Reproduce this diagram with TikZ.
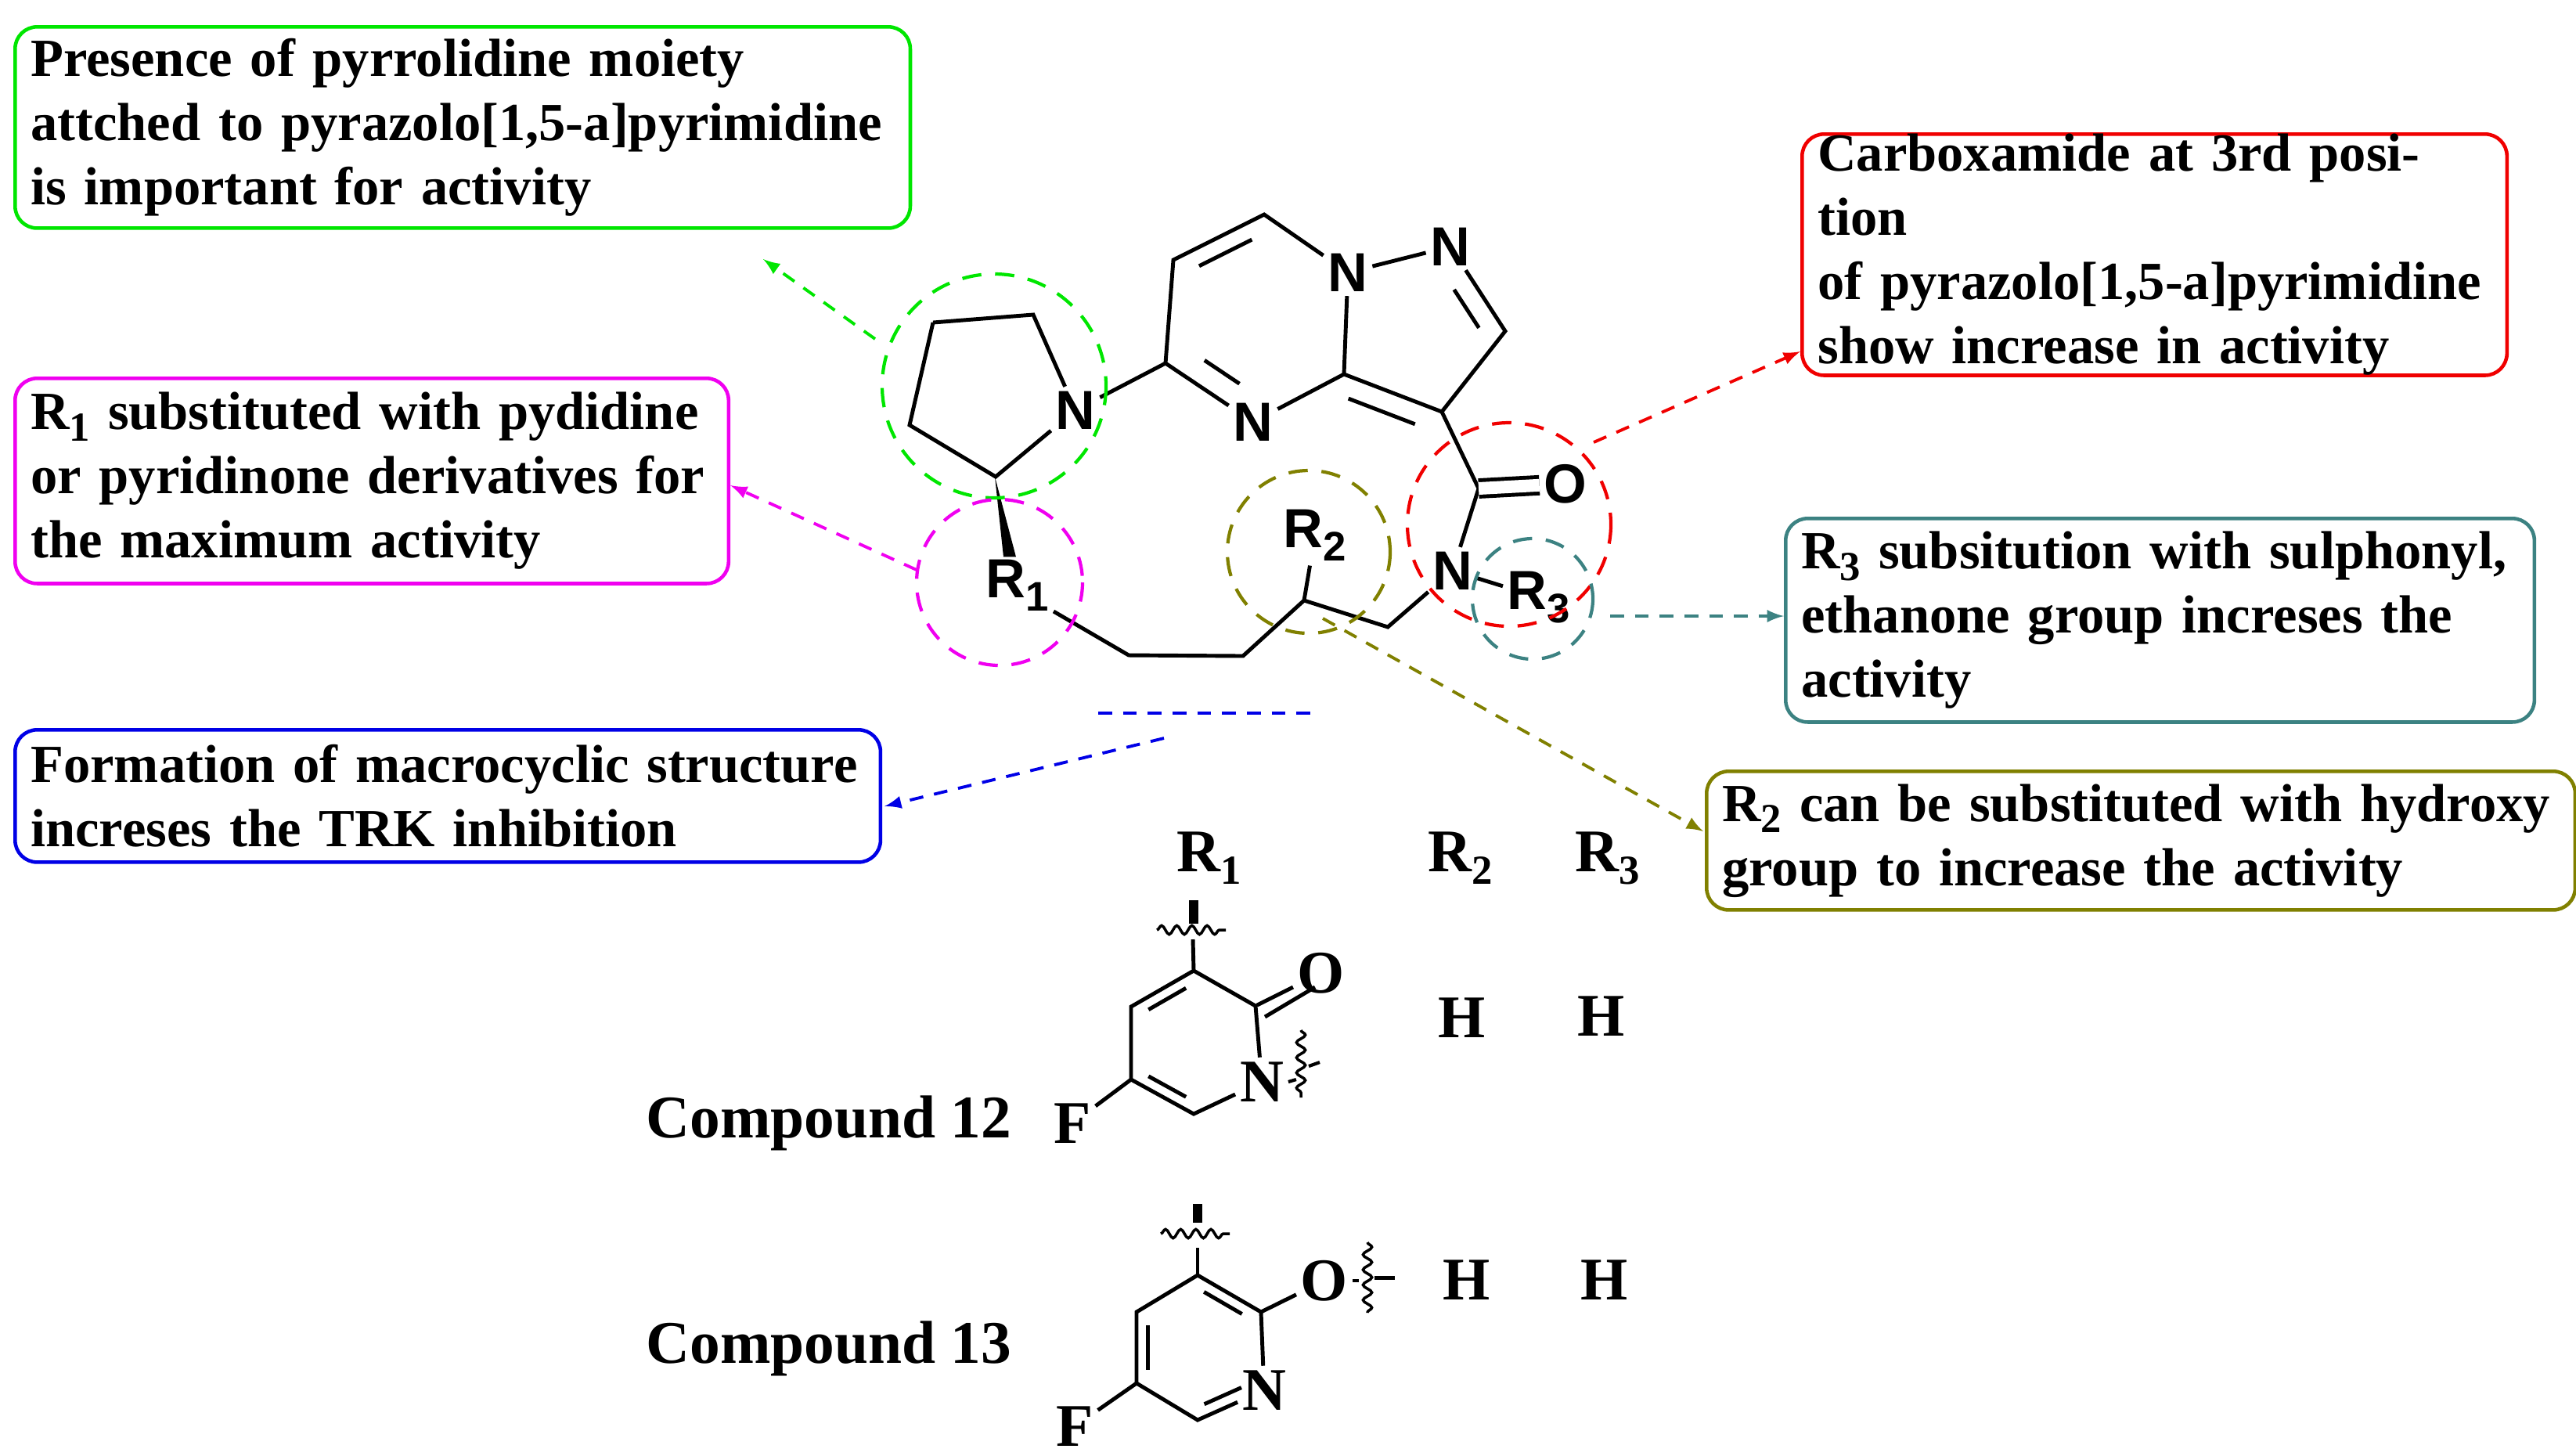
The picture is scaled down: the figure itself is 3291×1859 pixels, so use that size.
\documentclass[tikz,border=0pt]{standalone}
\usepackage{fontspec}
\setmainfont{Liberation Serif}
\newfontfamily\chem{Liberation Sans}
\usetikzlibrary{calc,decorations.pathmorphing}
\newcommand{\jl}[1]{\makebox[\linewidth][s]{#1}}
\newcommand{\lsub}[1]{\raisebox{-0.45ex}{\fontsize{15}{15}\selectfont #1}}
\definecolor{mygreen}{RGB}{0,230,0}
\definecolor{myred}{RGB}{240,0,0}
\definecolor{mymag}{RGB}{240,0,240}
\definecolor{myteal}{RGB}{60,130,130}
\definecolor{myblue}{RGB}{0,0,230}
\definecolor{myolive}{RGB}{128,128,0}
\begin{document}
\begin{tikzpicture}[x=0.01cm,y=-0.01cm,
  box/.style={draw,rounded corners=8pt,line width=1.3pt,anchor=north west,inner sep=0pt,align=left,
    font=\bfseries\fontsize{19.5}{23.3}\selectfont},
  bd/.style={line width=1.4pt},
  atm/.style={font=\chem\bfseries\fontsize{20}{20}\selectfont,inner sep=1.5pt},
  ct/.style={font=\bfseries\fontsize{22}{22}\selectfont,inner sep=1.5pt},
  circ/.style={dashed,line width=1.2pt,dash pattern=on 7pt off 5pt},
  arr/.style={dashed,line width=1.1pt,-latex,dash pattern=on 5pt off 4pt},
  wv/.style={line width=1pt,decorate,decoration={snake,amplitude=1.6pt,segment length=5.5pt}}]
\useasboundingbox (0,0) rectangle (3291,1859);
% ---- boxes
\node[box,draw=mygreen,text width=11.03cm,minimum width=11.43cm,minimum height=2.57cm,inner xsep=0.2cm] (bg) at (17,32)
 {\jl{Presence of pyrrolidine moiety}\\\jl{attched to pyrazolo[1,5-a]pyrimidine}\\is important for activity};
\node[box,draw=myred,text width=8.6cm,minimum width=9.0cm,minimum height=2.57cm,inner xsep=0.2cm] (br) at (2300,169)
 {Carboxamide at 3rd position\\of pyrazolo[1,5-a]pyrimidine\\show increase in activity};
\node[box,draw=mymag,text width=8.71cm,minimum width=9.11cm,minimum height=2.62cm,inner xsep=0.2cm] (bm) at (17,481)
 {\jl{R\lsub{1} substituted with pydidine}\\\jl{or pyridinone derivatives for}\\the maximum activity};
\node[box,draw=myteal,text width=9.16cm,minimum width=9.56cm,minimum height=2.6cm,inner xsep=0.2cm] (bt) at (2279,660)
 {\jl{R\lsub{3} subsitution with sulphonyl,}\\\jl{ethanone group increses the}\\activity};
\node[box,draw=myblue,text width=10.65cm,minimum width=11.05cm,minimum height=1.69cm,inner xsep=0.2cm] (bb) at (17,930)
 {\jl{Formation of macrocyclic structure}\\increses the TRK inhibition};
\node[box,draw=myolive,text width=10.69cm,minimum width=11.09cm,minimum height=1.77cm,inner xsep=0.2cm] (bo) at (2178,983)
 {\jl{R\lsub{2} can be substituted with hydroxy}\\group to increase the activity};
% ---- main structure
\coordinate (Cp1) at (1192,412); \coordinate (Cp2) at (1320,402);
\node[atm] (Npy) at (1374,524) {N};
\coordinate (Ca) at (1272,609); \coordinate (Cp4) at (1162,543);
\node[atm] (R1) at (1300,748) {R\lsub{1}};
\coordinate (C5) at (1489,464); \coordinate (C6) at (1499,332); \coordinate (C7) at (1615,274);
\node[atm] (N8) at (1722,348) {N};
\coordinate (C3a) at (1717,478);
\node[atm] (N4) at (1601,539) {N};
\node[atm] (N1) at (1853,315) {N};
\coordinate (C2p) at (1923,423); \coordinate (C3) at (1842,526);
\coordinate (Cc) at (1889,624);
\node[atm] (O) at (2000,618) {O};
\node[atm] (Nam) at (1856,729) {N};
\node[atm] (R3) at (1966,763) {R\lsub{3}};
\coordinate (CH2) at (1773,801); \coordinate (CH) at (1666,767);
\node[atm] (R2) at (1680,684) {R\lsub{2}};
\coordinate (Ch1) at (1588,838); \coordinate (Ch2) at (1442,837);
\coordinate (Ch3) at (1346,781);
\draw[bd] (Cp1)--(Cp2)--(Npy)--(Ca)--(Cp4)--(Cp1);
\draw[bd] (Npy)--(C5)--(C6)--(C7)--(N8)--(C3a)--(N4)--(C5);
\draw[bd] (N8)--(N1)--(C2p)--(C3)--(C3a);
\draw[bd] (C3)--(Cc)--(Nam)--(R3);
\draw[bd,double,double distance=0.16cm] (Cc)--(O);
\draw[bd] (Nam)--(CH2)--(CH)--(Ch1)--(Ch2)--(Ch3);
\draw[bd] (CH)--(R2);
\fill ($(Ca)+(-1,0)$) -- ($(R1.north)+(-18,2)$) -- ($(R1.north)+(-2,2)$) -- cycle;
\draw[bd] ($(C6)!0.15!(C7)!0.17!(1608,420)$) -- ($(C7)!0.15!(C6)!0.17!(1608,420)$);
\draw[bd] ($(C5)!0.18!(N4)!0.3!(1608,420)$) -- ($(N4)!0.25!(C5)!0.3!(1608,420)$);
\draw[bd] ($(C3a)!0.05!(C3)!0.18!(1720,640)$) -- ($(C3)!0.12!(C3a)!0.18!(1720,640)$);
\draw[bd] ($(N1)!0.3!(C2p)!0.22!(1800,450)$) -- ($(C2p)!0.12!(N1)!0.22!(1800,450)$);
% circles
\draw[circ,mygreen] (1270,493) circle (143);
\draw[circ,mymag] (1277,744) circle (106);
\draw[circ,myolive] (1672,705) circle (104);
\draw[circ,myred] (1928,670) circle (130);
\draw[circ,myteal] (1958,765) circle (77);
% arrows
\coordinate (ag) at (1118,433); \draw[arr,mygreen] (ag) -- (975,331);
\coordinate (am) at (1171,728); \draw[arr,mymag] (am) -- (bm.east|-0,620);
\coordinate (ar) at (2036,565); \draw[arr,myred] (ar) -- (2300,449);
\coordinate (at1) at (2057,787); \draw[arr,myteal] (at1) -- (bt.west|-at1);
\coordinate (ao) at (1690,790); \draw[arr,myolive] (ao) -- (2176,1062);
\coordinate (bl1) at (1403,911); \coordinate (bl2) at (1677,911);
\draw[dashed,myblue,line width=1.1pt,dash pattern=on 5pt off 4pt] (bl1)--(bl2);
\coordinate (ab) at (1487,943); \draw[arr,myblue] (ab) -- (1130,1030);
% ---- table headers
\node[ct] (h1) at (1545,1096) {R\lsub{1}};
\node[ct] (h2) at (1866,1096) {R\lsub{2}};
\node[ct] (h3) at (2054,1096) {R\lsub{3}};
% compound 12
\node[ct] (c12) at (1059,1435) {Compound 12};
\coordinate (a3) at (1525,1240); \coordinate (a2) at (1604,1285);
\node[ct] (aN) at (1612,1382) {N};
\coordinate (a6) at (1525,1423); \coordinate (a5) at (1445,1379); \coordinate (a4) at (1445,1286);
\node[ct] (aO) at (1688,1243) {O};
\node[ct] (aF) at (1370,1435) {F};
\coordinate (au) at (1524,1200);
\draw[bd] (a3)--(a2)--(aN)--(a6)--(a5)--(a4)--(a3);
\draw[bd] (a5)--(aF); \draw[bd] (a3)--(au);
\draw[bd] ($(a2)!0.02!(aO)$)--(aO);
\draw[bd] ($(a2)+(12,14)$)--($(aO)+(-8,18)$);
\draw[bd] ($(a3)!0.15!(a4)!0.18!(1525,1332)$)--($(a4)!0.12!(a3)!0.18!(1525,1332)$);
\draw[bd] ($(a5)!0.12!(a6)!0.18!(1525,1332)$)--($(a6)!0.15!(a5)!0.18!(1525,1332)$);
\draw[wv] (1478,1188)--(1566,1188);
\fill (1519,1150) rectangle (1531,1180);
\draw[wv] (1662,1316)--(1662,1402);
\draw[line width=1.2pt] (aN.east)--++(10,-3);
\draw[line width=1.2pt] (1672,1362)--(1686,1357);
\node[ct] (h12a) at (1868,1300) {H};
\node[ct] (h12b) at (2046,1298) {H};
% compound 13
\node[ct] (c13) at (1059,1723) {Compound 13};
\coordinate (b3) at (1530,1629); \coordinate (b2) at (1611,1676);
\node[ct] (bN) at (1615,1776) {N};
\coordinate (b6) at (1530,1814); \coordinate (b5) at (1452,1767); \coordinate (b4) at (1452,1676);
\node[ct] (bO) at (1692,1636) {O};
\node[ct] (bF) at (1373,1822) {F};
\coordinate (bu) at (1530,1594);
\draw[bd] (b3)--(b2)--(bN)--(b6)--(b5)--(b4)--(b3);
\draw[bd] (b5)--(bF); \draw[bd] (b3)--(bu); \draw[bd] (b2)--(bO);
\draw[bd] ($(b3)!0.12!(b2)!0.18!(1531,1722)$)--($(b2)!0.15!(b3)!0.18!(1531,1722)$);
\draw[bd] ($(b4)!0.12!(b5)!0.18!(1531,1722)$)--($(b5)!0.12!(b4)!0.18!(1531,1722)$);
\draw[bd] ($(b6)!0.12!(bN)!0.18!(1531,1722)$)--($(bN)!0.2!(b6)!0.18!(1531,1722)$);
\draw[wv] (1483,1576)--(1571,1576);
\fill (1524,1538) rectangle (1536,1562);
\draw[wv] (1747,1587)--(1747,1677);
\draw[line width=1.2pt] (bO.east)--++(8,0);
\draw[line width=1.4pt] (1756,1632)--(1782,1632);
\node[ct] (h13a) at (1874,1635) {H};
\node[ct] (h13b) at (2050,1635) {H};
\end{tikzpicture}
\end{document}
